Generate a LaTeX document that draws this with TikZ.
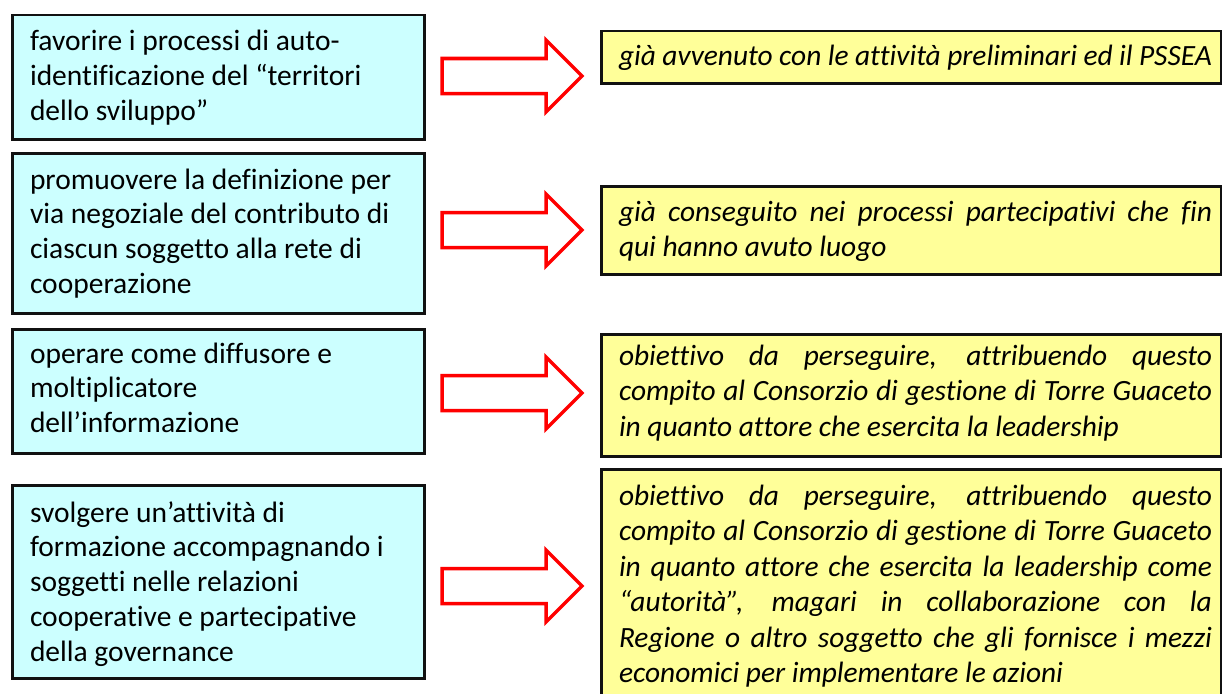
\documentclass[tikz,border=0pt]{standalone}
\usepackage{fontspec}
\setmainfont{Carlito}[Ligatures={NoCommon}]
\definecolor{boxcyan}{HTML}{CCFFFF}
\definecolor{boxyellow}{HTML}{FFFF99}
\definecolor{boxline}{HTML}{111111}
\newcommand{\ltext}[1]{\parbox[t]{385pt}{\raggedright\fontsize{29.5}{34.8}\selectfont #1}}
\newcommand{\rtext}[1]{\parbox[t]{593pt}{\hyphenpenalty=10000\fontsize{29.4}{35.5}\selectfont\itshape #1}}
\begin{document}
\begin{tikzpicture}[x=1pt,y=-1pt,
  lbox/.style={draw=boxline, line width=2.5pt, fill=boxcyan, inner sep=0pt,
    minimum width=412pt, anchor=north west},
  rbox/.style={draw=boxline, line width=2.5pt, fill=boxyellow, inner sep=0pt,
    minimum width=620pt, anchor=north west},
  txt/.style={anchor=base west, inner sep=0pt, outer sep=0pt},
  bigarrow/.style={draw=red, fill=white, line width=3.5pt, line join=miter}]
\path[use as bounding box, clip] (0,0) rectangle (1222,693);
\fill[white] (0,0) rectangle (1222,693);

% left boxes
\node[lbox, minimum height=124pt] (L1) at (11,14) {};
\node[lbox, minimum height=160pt] (L2) at (11,152) {};
\node[lbox, minimum height=124pt] (L3) at (11,328) {};
\node[lbox, minimum height=193pt] (L4) at (11,484) {};
\node[txt] (T1) at (30,51) {\ltext{favorire i processi di auto-\\identificazione del “territori\\dello sviluppo”}};
\node[txt] (T2) at (30,189) {\ltext{promuovere la definizione per\\via negoziale del contributo di\\ciascun soggetto alla rete di\\cooperazione}};
\node[txt] (T3) at (30,363) {\ltext{operare come diffusore e\\moltiplicatore\\dell’informazione}};
\node[txt] (T4) at (30,522) {\ltext{svolgere un’attività di\\formazione accompagnando i\\soggetti nelle relazioni\\cooperative e partecipative\\della governance}};

% right boxes
\node[rbox, minimum height=52pt] (R1) at (600,30) {};
\node[rbox, minimum height=88pt] (R2) at (600,185) {};
\node[rbox, minimum height=122pt] (R3) at (600,333) {};
\node[rbox, minimum height=240pt] (R4) at (600,468) {};
\node[txt] (S1) at (619,65) {\rtext{già avvenuto con le attività preliminari ed il PSSEA}};
\node[txt] (S2) at (619,221) {\rtext{già conseguito nei processi partecipativi che fin\linebreak qui hanno avuto luogo}};
\node[txt] (S3) at (619,365) {\rtext{obiettivo da perseguire, attribuendo questo\linebreak compito al Consorzio di gestione di Torre Guaceto\linebreak in quanto attore che esercita la leadership}};
\node[txt] (S4) at (619,505) {\rtext{obiettivo da perseguire, attribuendo questo\linebreak compito al Consorzio di gestione di Torre Guaceto\linebreak in quanto attore che esercita la leadership come\linebreak “autorità”, magari in collaborazione con la\linebreak Regione o altro soggetto che gli fornisce i mezzi\linebreak economici per implementare le azioni}};

% block arrows (tail centre coordinates)
\coordinate (A1) at (442,76);
\coordinate (A2) at (442,230);
\coordinate (A3) at (442,393);
\coordinate (A4) at (442,586);
\foreach \a in {A1,A2,A3,A4}
  \draw[bigarrow] (\a) ++(0,-17.5) -- ++(104,0) -- ++(0,-18.5) -- ++(36,36)
    -- ++(-36,36) -- ++(0,-18.5) -- ++(-104,0) -- cycle;
\end{tikzpicture}
\end{document}
